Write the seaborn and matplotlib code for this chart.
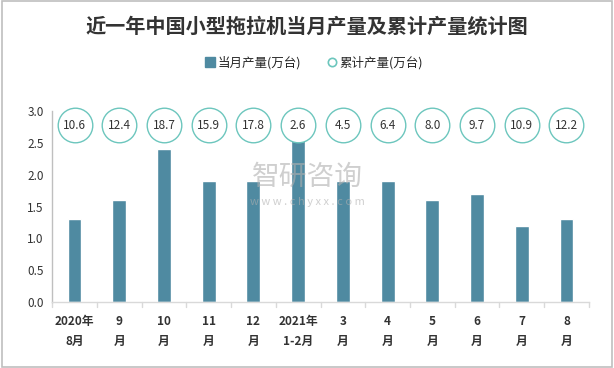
import matplotlib
matplotlib.use("Agg")
import matplotlib.pyplot as plt
import seaborn as sns
import pandas as pd
import numpy as np
from matplotlib.patches import Rectangle
from matplotlib.lines import Line2D

categories = ["2020年\n8月", "9\n月", "10\n月", "11\n月", "12\n月", "2021年\n1-2月",
              "3\n月", "4\n月", "5\n月", "6\n月", "7\n月", "8\n月"]
monthly = [1.3, 1.6, 2.4, 1.9, 1.9, 2.6, 1.9, 1.9, 1.6, 1.7, 1.2, 1.3]
cumulative = [10.6, 12.4, 18.7, 15.9, 17.8, 2.6, 4.5, 6.4, 8.0, 9.7, 10.9, 12.2]
yticks = [0.0, 0.5, 1.0, 1.5, 2.0, 2.5, 3.0]

sns.set_theme(style="white")
plt.rcParams['font.family'] = ['Noto Sans CJK SC', 'DejaVu Sans']

df = pd.DataFrame({"cat": categories, "monthly": monthly})

fig = plt.figure(figsize=(6.14, 3.68), dpi=100)
ax = fig.add_axes([0.085, 0.179, 0.874, 0.519])

bar_color = "#4F8AA1"
circ_color = "#6CC6BD"
sns.barplot(data=df, x="cat", y="monthly", color=bar_color, width=0.31,
            saturation=1, ax=ax, order=categories)

ax.set_ylim(0, 3.0)
ax.set_xlim(-0.5, len(categories) - 0.5)
ax.set_yticks(yticks)
ax.set_yticklabels([f"{v:.1f}" for v in yticks], fontsize=8.5, color="#333333")
ax.set_xlabel("")
ax.set_ylabel("")
ax.set_xticks(range(len(categories)))
ax.set_xticklabels(categories, fontsize=8.5, fontweight="bold", color="#333333",
                   linespacing=1.75)
ax.tick_params(axis="x", length=0, pad=9)
ax.tick_params(axis="y", length=0, pad=6)

# category boundary ticks
for b in np.arange(-0.5, len(categories), 1.0):
    ax.plot([b, b], [0, -0.07], color="#D9D9D9", lw=1, clip_on=False)

for s in ["top", "right"]:
    ax.spines[s].set_visible(False)
ax.spines["left"].set_color("#BFBFBF")
ax.spines["bottom"].set_color("#D9D9D9")
ax.spines["left"].set_linewidth(1)
ax.spines["bottom"].set_linewidth(1)

# cumulative circles
circ_y = 2.78
xs = np.arange(len(categories))
ax.scatter(xs, [circ_y] * len(xs), s=620, facecolors="white", edgecolors=circ_color,
           linewidths=1.0, clip_on=False, zorder=5)
for x, v in zip(xs, cumulative):
    ax.text(x, circ_y, f"{v:.1f}", ha="center", va="center", fontsize=8.5,
            color="#333333", zorder=6)

# watermark
fig.text(0.5, 0.52, "智研咨询", ha="center", va="center", fontsize=20,
         color="#B0B0B0", alpha=0.6, zorder=10)
fig.text(0.5, 0.45, "w w w . c h y x x . c o m", ha="center", va="center",
         fontsize=8, color="#B0B0B0", alpha=0.6, zorder=10)

# title
fig.text(0.5, 0.93, "近一年中国小型拖拉机当月产量及累计产量统计图", ha="center",
         va="center", fontsize=14.5, fontweight="bold", color="#333333")

# legend
handles = [
    Line2D([], [], marker="s", linestyle="none", markersize=7,
           markerfacecolor=bar_color, markeredgecolor=bar_color),
    Line2D([], [], marker="o", linestyle="none", markersize=6,
           markerfacecolor="white", markeredgecolor=circ_color, markeredgewidth=1.2),
]
fig.legend(handles, ["当月产量(万台)", "累计产量(万台)"], loc="center",
           bbox_to_anchor=(0.51, 0.83), ncol=2, frameon=False, fontsize=9,
           handletextpad=0.1, columnspacing=2.0, handlelength=1.0)

# border
fig.patches.append(Rectangle((0.004, 0.004), 0.992, 0.992, transform=fig.transFigure,
                             fill=False, edgecolor="#BFBFBF", lw=1.2))

fig.savefig("out.png", dpi=100)
